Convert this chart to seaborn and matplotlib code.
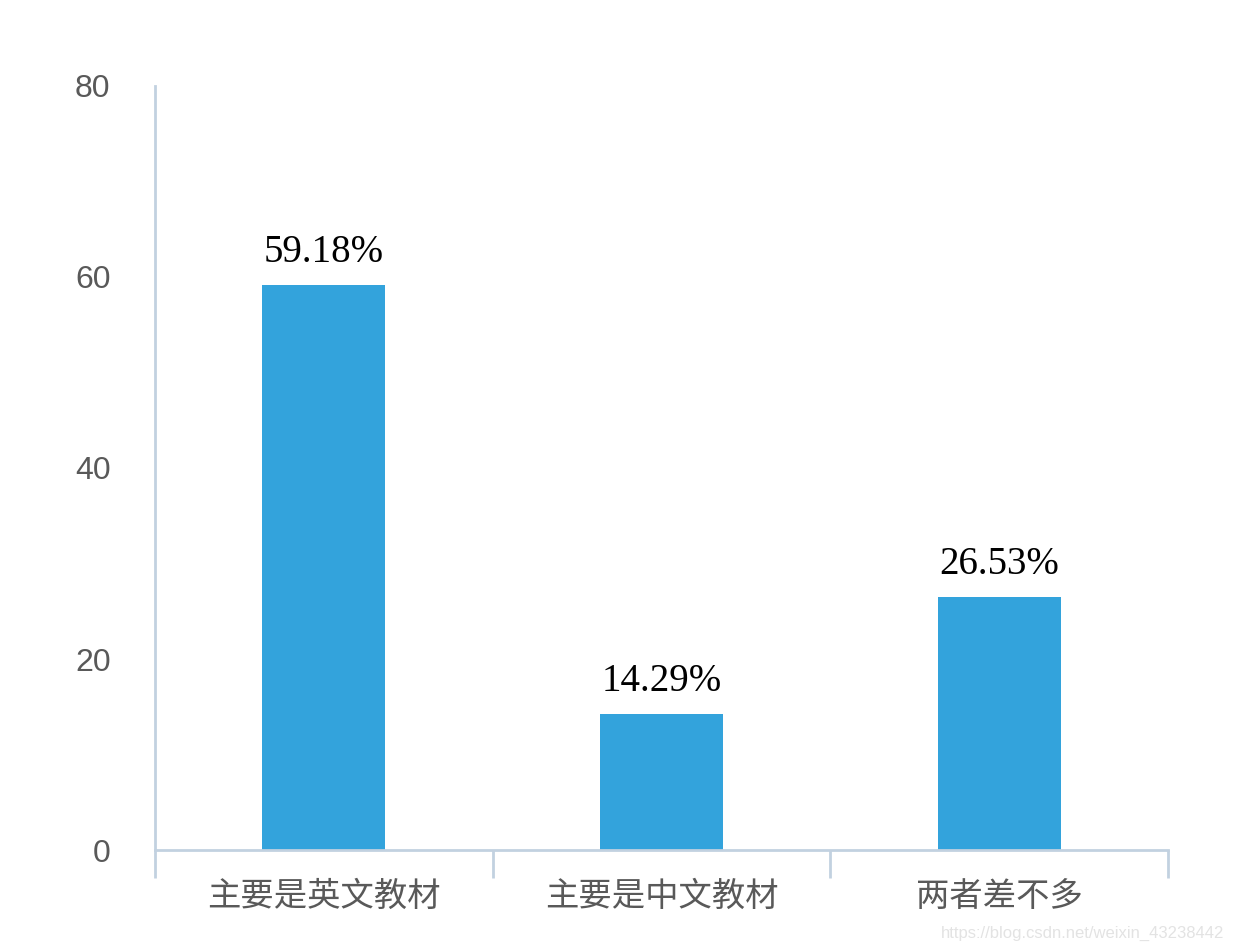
import numpy as np
import pandas as pd
import matplotlib
matplotlib.use("Agg")
import matplotlib.pyplot as plt
import seaborn as sns

# ---------- data ----------
categories = ["主要是英文教材", "主要是中文教材", "两者差不多"]
percentages = [59.18, 14.29, 26.53]
y_ticks = [0, 20, 40, 60, 80]

bar_color = "#33A3DC"
axis_color = "#C2D1E0"
text_gray = "#595959"

sns.set_theme(style="white")
plt.rcParams["font.family"] = ["Liberation Sans", "Noto Sans CJK SC", "DejaVu Sans"]

df = pd.DataFrame({"category": categories, "value": percentages})

fig = plt.figure(figsize=(12.33, 9.49), dpi=100)
ax = fig.add_axes([0.1257, 0.1043, 0.8216, 0.8051])

sns.barplot(data=df, x="category", y="value", color=bar_color, width=0.365,
            saturation=1, linewidth=0, ax=ax)

ax.set_xlim(-0.5, len(categories) - 0.5)
ax.set_ylim(0, 80)
ax.set_yticks(y_ticks)
ax.set_xlabel("")
ax.set_ylabel("")

# spines
for side in ["top", "right"]:
    ax.spines[side].set_visible(False)
for side in ["left", "bottom"]:
    ax.spines[side].set_color(axis_color)
    ax.spines[side].set_linewidth(2)

# ticks: labels centered, tick marks at category boundaries
ax.tick_params(axis="x", which="major", length=0, pad=23, labelsize=24,
               labelcolor=text_gray)
ax.set_xticks(np.arange(-0.5, len(categories), 1.0), minor=True)
ax.tick_params(axis="x", which="minor", length=20, width=2, color=axis_color,
               direction="out", bottom=True)
ax.tick_params(axis="y", length=0, pad=32, labelsize=23, labelcolor=text_gray)

# value labels
for cont in ax.containers:
    ax.bar_label(cont, labels=[f"{v:.2f}%" for v in percentages], padding=10,
                 fontsize=28, family="Liberation Serif", color="black")

fig.text(0.993, 0.008, "https://blog.csdn.net/weixin_43238442", ha="right",
         va="bottom", fontsize=12, color="#E3E3E3")

fig.savefig("out.png", dpi=100)
